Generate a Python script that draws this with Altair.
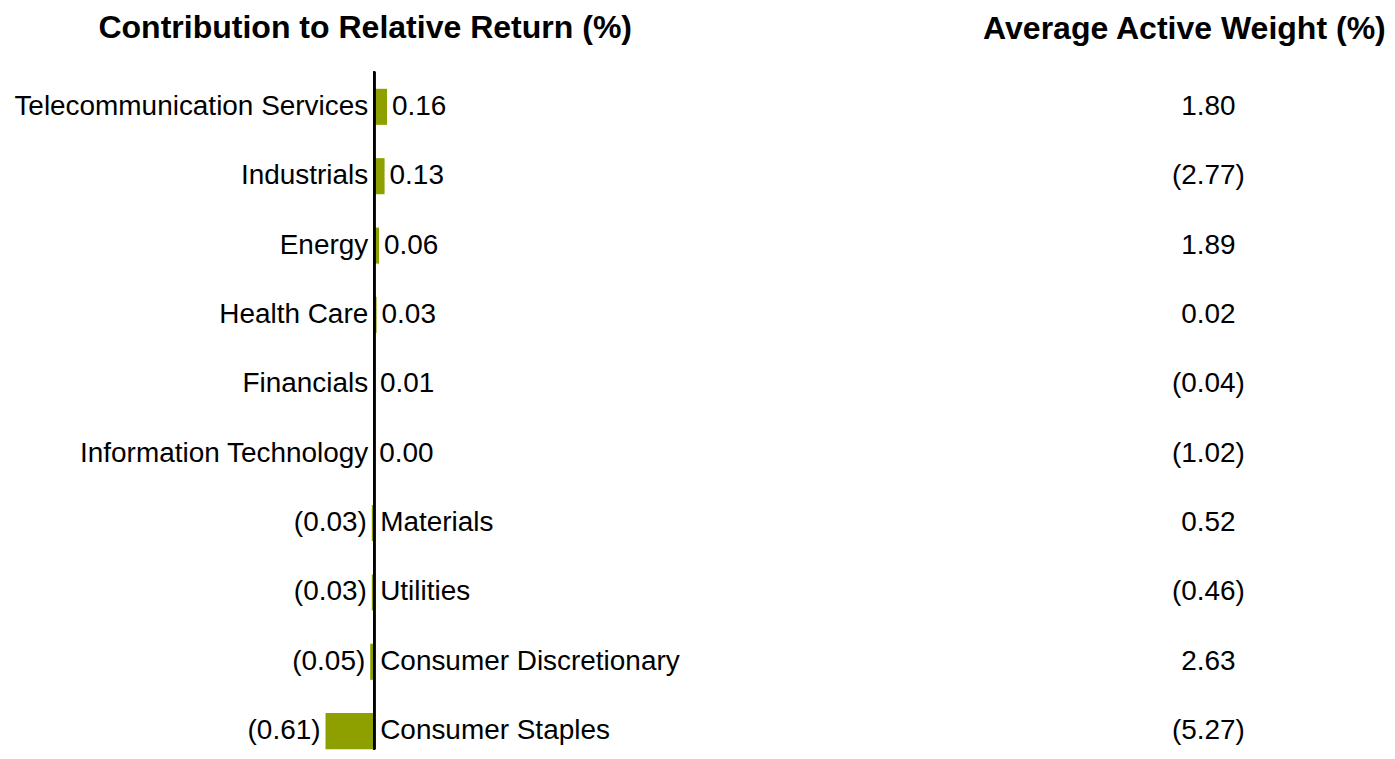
import altair as alt
import pandas as pd

sectors = [
    "Telecommunication Services", "Industrials", "Energy", "Health Care",
    "Financials", "Information Technology", "Materials", "Utilities",
    "Consumer Discretionary", "Consumer Staples",
]
contribution = [0.16, 0.13, 0.06, 0.03, 0.01, 0.00, -0.03, -0.03, -0.05, -0.61]
active_weight = [1.80, -2.77, 1.89, 0.02, -0.04, -1.02, 0.52, -0.46, 2.63, -5.27]

left_title = "Contribution to Relative Return (%)"
right_title = "Average Active Weight (%)"


def fmt(v):
    return f"({abs(v):.2f})" if v < 0 else f"{v:.2f}"


df = pd.DataFrame({
    "sector": sectors,
    "contribution": contribution,
    "weight": active_weight,
})
df["zero"] = 0.0
df["contrib_label"] = [fmt(v) for v in contribution]
df["weight_label"] = [fmt(v) for v in active_weight]
df["side"] = ["pos" if v >= 0 else "neg" for v in contribution]
df["column"] = right_title

FONT = "Liberation Sans"
GREEN = "#8DA000"
LABEL_SIZE = 28
TITLE_SIZE = 32.1
PLOT_H = 679

y_enc = alt.Y(
    "sector:N", sort=sectors, axis=None,
    scale=alt.Scale(type="band", paddingInner=0.48, paddingOuter=0.1234, align=1),
)
x_scale = alt.Scale(domain=[-367 / 80, (716 - 367) / 80], nice=False, zero=False)

base = alt.Chart(df)

bars = base.mark_bar(color=GREEN).encode(
    x=alt.X("contribution:Q", scale=x_scale, axis=None),
    x2="zero:Q",
    y=y_enc,
)

zero_line = base.mark_rule(color="black", strokeWidth=2).encode(
    x=alt.X("zero:Q", scale=x_scale, axis=None),
)

pos = base.transform_filter(alt.datum.side == "pos")
neg = base.transform_filter(alt.datum.side == "neg")

pos_cat = pos.mark_text(align="right", baseline="middle", dx=-6,
                        font=FONT, fontSize=LABEL_SIZE, color="black").encode(
    x=alt.X("zero:Q", scale=x_scale, axis=None), y=y_enc, text="sector:N")
pos_val = pos.mark_text(align="left", baseline="middle", dx=5,
                        font=FONT, fontSize=LABEL_SIZE, color="black").encode(
    x=alt.X("contribution:Q", scale=x_scale, axis=None), y=y_enc, text="contrib_label:N")
neg_cat = neg.mark_text(align="left", baseline="middle", dx=6,
                        font=FONT, fontSize=LABEL_SIZE, color="black").encode(
    x=alt.X("zero:Q", scale=x_scale, axis=None), y=y_enc, text="sector:N")
neg_val = neg.mark_text(align="right", baseline="middle", dx=-5,
                        font=FONT, fontSize=LABEL_SIZE, color="black").encode(
    x=alt.X("contribution:Q", scale=x_scale, axis=None), y=y_enc, text="contrib_label:N")

left = alt.layer(bars, zero_line, pos_cat, pos_val, neg_cat, neg_val).properties(
    width=716, height=PLOT_H,
    title=alt.TitleParams(left_title, font=FONT, fontSize=TITLE_SIZE, fontWeight="bold",
                          anchor="middle", offset=26, color="black"),
)

right = base.mark_text(align="center", baseline="middle", font=FONT,
                       fontSize=LABEL_SIZE, color="black").encode(
    x=alt.X("column:N", axis=None),
    y=y_enc,
    text="weight_label:N",
).properties(
    width=352, height=PLOT_H,
    title=alt.TitleParams(right_title, font=FONT, fontSize=TITLE_SIZE, fontWeight="bold",
                          anchor="middle", offset=26, dx=-24, color="black"),
)

chart = alt.hconcat(left, right, spacing=311, bounds="flush").properties(
    padding={"top": 2, "left": 0, "right": 0, "bottom": 0}, background="white"
).configure_view(stroke=None)

chart.save("out.html", embed_options={"renderer": "svg", "actions": False})
